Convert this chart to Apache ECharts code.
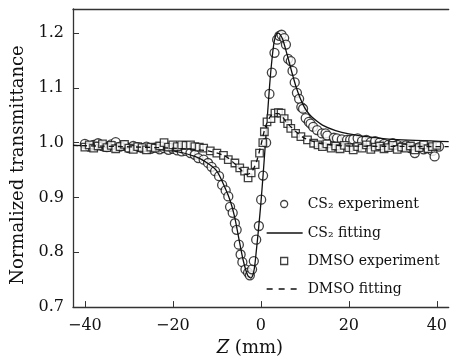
<!DOCTYPE html>
<html lang="en">
<head>
    <meta charset="utf-8">
    <title>Z-scan</title>
    <script type="text/javascript" src="https://cdn.jsdelivr.net/npm/echarts@6/dist/echarts.min.js"></script>
    <style type="text/css">
        html, body { margin: 0; padding: 0; background: #fff; }
        #main { width: 450px; height: 362px; }
    </style>
</head>
<body>
<div id="main"></div>
<script type="text/javascript">
    // tick positions
    var xTicks = [-40, -20, 0, 20, 40];
    var yTicks = [0.7, 0.8, 0.9, 1.0, 1.1, 1.2];

    // CS2 experiment (circles)
    var cs2Z = [-40, -39, -38, -37, -36, -35, -34, -33, -32, -31, -30, -29, -28, -27, -26, -25, -24, -23, -22, -21, -20, -19, -18, -17, -16, -15,
        -14.2, -13, -12, -11.2, -10.4, -9.5, -8.8, -8, -7.4, -7, -6.4, -5.9, -5.5, -5, -4.6, -4.2, -3.5, -2.9, -2.5, -2, -1.6, -1.06, -0.45,
        0.07, 0.5, 1.2, 1.95, 2.5, 3.1, 3.7, 4.2, 4.7, 5.3, 5.7, 6.2, 6.8, 7.2, 7.7, 8.2, 8.7, 9.2, 9.6, 10.2, 10.9, 11.3, 11.9, 12.8, 13.9,
        14.7, 15.1, 16.6, 17.3, 18.4, 19.6, 20.3, 21, 22, 23, 24, 25, 26, 27, 28, 29, 30, 31, 32, 33, 34, 35, 36, 37, 38, 39, 39.5, 40.5];
    var cs2T = [0.998, 0.993, 0.996, 0.999, 0.994, 0.992, 0.997, 1.001, 0.993, 0.995, 0.990, 0.994, 0.992, 0.990, 0.993, 0.989, 0.991, 0.988, 0.990, 0.987, 0.989, 0.986, 0.984, 0.985, 0.981, 0.978,
        0.972, 0.969, 0.963, 0.956, 0.948, 0.939, 0.923, 0.913, 0.902, 0.883, 0.872, 0.853, 0.841, 0.814, 0.796, 0.782, 0.769, 0.763, 0.758, 0.769, 0.784, 0.823, 0.848,
        0.896, 0.940, 1.000, 1.089, 1.128, 1.164, 1.188, 1.195, 1.197, 1.191, 1.179, 1.153, 1.149, 1.131, 1.110, 1.091, 1.080, 1.065, 1.062, 1.045, 1.038, 1.035, 1.029, 1.023, 1.017,
        1.017, 1.013, 1.009, 1.008, 1.006, 1.005, 1.005, 1.006, 1.008, 1.003, 1.005, 1.001, 1.003, 1.000, 0.998, 0.996, 0.999, 0.996, 0.993, 0.995, 0.990, 0.981, 0.992, 0.988, 0.990, 0.985, 0.975, 0.993];

    // CS2 fitting (solid line)
    var cs2FitZ = [-42.7, -30, -20, -15, -12, -10, -8, -7, -6, -5, -4, -3, -2.3, -1.6, -1, -0.5, 0, 0.5, 1, 1.5, 2, 2.5, 3, 3.5, 4, 4.5, 5, 6, 7, 8, 9, 10, 11, 12, 14, 17, 20, 25, 30, 42.7];
    var cs2FitT = [0.995, 0.992, 0.985, 0.975, 0.962, 0.948, 0.915, 0.895, 0.866, 0.825, 0.785, 0.758, 0.753, 0.765, 0.805, 0.845, 0.889, 0.940, 0.995, 1.050, 1.105, 1.150, 1.183, 1.198, 1.200, 1.196, 1.188, 1.160, 1.130, 1.102, 1.080, 1.063, 1.052, 1.044, 1.032, 1.022, 1.016, 1.010, 1.006, 1.002];

    // DMSO experiment (squares)
    var dmsoZ = [-40, -39, -38, -37, -36, -35, -34, -33, -32, -31, -30, -29, -28, -27, -26, -25, -24, -23, -22, -21, -20, -19, -18, -17, -16, -15,
        -14, -13, -11.5, -10, -8.5, -7.4, -5.9, -4.8, -3.7, -2.9, -2.2, -1.3, -0.3, 0.45, 0.8, 1.4, 2.3, 3.2, 4.0, 4.6, 5.3, 6.1, 6.8, 7.9, 9.1, 10.6, 12,
        13, 14, 15, 16, 17, 18, 19, 20, 21, 22, 23, 24, 25, 26, 27, 28, 29, 30, 31, 32, 33, 34, 35, 36, 37, 38, 39, 40];
    var dmsoT = [0.992, 0.996, 0.990, 0.994, 0.998, 0.991, 0.995, 0.989, 0.993, 0.997, 0.990, 0.988, 0.993, 0.991, 0.987, 0.992, 0.990, 0.994, 1.000, 0.992, 0.996, 0.993, 0.996, 0.995, 0.996, 0.993,
        0.992, 0.990, 0.985, 0.981, 0.977, 0.969, 0.963, 0.954, 0.948, 0.936, 0.945, 0.960, 0.981, 1.000, 1.020, 1.038, 1.044, 1.054, 1.055, 1.054, 1.044, 1.035, 1.026, 1.017, 1.011, 1.005, 0.999,
        0.996, 0.993, 0.998, 0.990, 0.994, 0.989, 0.995, 0.991, 0.987, 0.993, 0.990, 0.996, 0.988, 0.992, 0.994, 0.989, 0.991, 0.995, 0.988, 0.992, 0.990, 0.994, 0.987, 0.991, 0.996, 0.989, 0.993, 0.995];

    // DMSO fitting (dashed line)
    var dmsoFitZ = [-42.7, -20, -12, -8, -6, -4.5, -3.2, -2, -1, 0, 1, 2, 3, 4, 5, 6, 8, 10, 14, 20, 42.7];
    var dmsoFitT = [0.995, 0.990, 0.985, 0.975, 0.962, 0.950, 0.942, 0.948, 0.965, 0.995, 1.028, 1.046, 1.053, 1.053, 1.046, 1.036, 1.020, 1.008, 0.998, 0.994, 0.993];

    function pairs(xs, ys) {
        var out = [];
        for (var i = 0; i < xs.length; i++) {
            out.push([xs[i], ys[i]]);
        }
        return out;
    }

    var serif = 'DejaVu Serif';
    var ink = '#111';

    var myChart = echarts.init(document.getElementById('main'));

    // one legend per entry so each row can be placed like the original
    function symbolLegend(name, icon, top) {
        return {
            data: [{name: name, icon: icon}],
            left: 280,
            top: top,
            padding: 0,
            itemWidth: 7,
            itemHeight: 7,
            selectedMode: false,
            itemStyle: {color: '#fff', borderColor: ink, borderWidth: 1.3},
            textStyle: {fontFamily: serif, fontSize: 14, color: ink, padding: [0, 0, 0, 15]}
        };
    }

    function lineLegend(name, top, dash) {
        return {
            data: [name],
            left: 266,
            top: top,
            padding: 0,
            itemWidth: 36,
            itemHeight: 7,
            selectedMode: false,
            itemStyle: {color: 'transparent', borderWidth: 0},
            lineStyle: {color: ink, width: 1.3, type: dash, opacity: 1},
            textStyle: {fontFamily: serif, fontSize: 14, color: ink}
        };
    }

    var option = {
        animation: false,
        grid: {left: 73, right: -3, top: 9, bottom: 50},
        legend: [
            symbolLegend('CS₂ experiment', 'circle', 197),
            lineLegend('CS₂ fitting', 226, 'solid'),
            symbolLegend('DMSO experiment', 'rect', 254),
            lineLegend('DMSO fitting', 282, [6, 6])
        ],
        xAxis: [{
            type: 'value',
            min: -42.7,
            max: 42.7,
            name: '{i|Z} (mm)',
            nameLocation: 'middle',
            nameGap: 31,
            nameTextStyle: {
                fontFamily: serif, fontSize: 18, color: ink, padding: [0, 22, 0, 0],
                rich: {i: {fontFamily: serif, fontSize: 18, fontStyle: 'italic', color: ink}}
            },
            axisLine: {onZero: false, lineStyle: {color: '#333', width: 1.3}},
            axisTick: {inside: true, length: 6, customValues: xTicks, lineStyle: {color: '#333'}},
            axisLabel: {
                customValues: xTicks, margin: 11, fontFamily: serif, fontSize: 16, color: ink,
                formatter: function (v) { return v < 0 ? '−' + Math.abs(v) : String(v); }
            },
            splitLine: {show: false}
        }, {
            type: 'value',
            position: 'top',
            min: -42.7,
            max: 42.7,
            axisLine: {show: true, onZero: false, lineStyle: {color: '#333', width: 1.3}},
            axisTick: {show: false},
            axisLabel: {show: false},
            splitLine: {show: false}
        }],
        yAxis: [{
            type: 'value',
            min: 0.7,
            max: 1.244,
            name: 'Normalized transmittance',
            nameLocation: 'middle',
            nameGap: 41,
            nameTextStyle: {fontFamily: serif, fontSize: 18, color: ink, padding: [0, 14, 0, 0]},
            axisLine: {show: true, onZero: false, lineStyle: {color: '#333', width: 1.3}},
            axisTick: {inside: true, length: 6, customValues: yTicks, lineStyle: {color: '#333'}},
            axisLabel: {
                customValues: yTicks, margin: 9, fontFamily: serif, fontSize: 16, color: ink,
                formatter: function (v) { return v.toFixed(1); }
            },
            splitLine: {show: false}
        }],
        series: [{
            name: 'CS₂ experiment',
            type: 'scatter',
            symbol: 'circle',
            symbolSize: 9,
            itemStyle: {color: '#fff', borderColor: ink, borderWidth: 1.3},
            data: pairs(cs2Z, cs2T),
            z: 2
        }, {
            name: 'CS₂ fitting',
            type: 'line',
            symbol: 'none',
            smooth: 0.3,
            lineStyle: {color: ink, width: 1.3},
            itemStyle: {color: ink},
            data: pairs(cs2FitZ, cs2FitT),
            z: 3
        }, {
            name: 'DMSO experiment',
            type: 'scatter',
            symbol: 'rect',
            symbolSize: 7.5,
            itemStyle: {color: '#fff', borderColor: ink, borderWidth: 1.3},
            data: pairs(dmsoZ, dmsoT),
            z: 4
        }, {
            name: 'DMSO fitting',
            type: 'line',
            symbol: 'none',
            smooth: 0.3,
            lineStyle: {color: ink, width: 1.3, type: [5, 4]},
            itemStyle: {color: ink},
            data: pairs(dmsoFitZ, dmsoFitT),
            z: 5
        }]
    };

    myChart.setOption(option);
</script>
</body>
</html>
